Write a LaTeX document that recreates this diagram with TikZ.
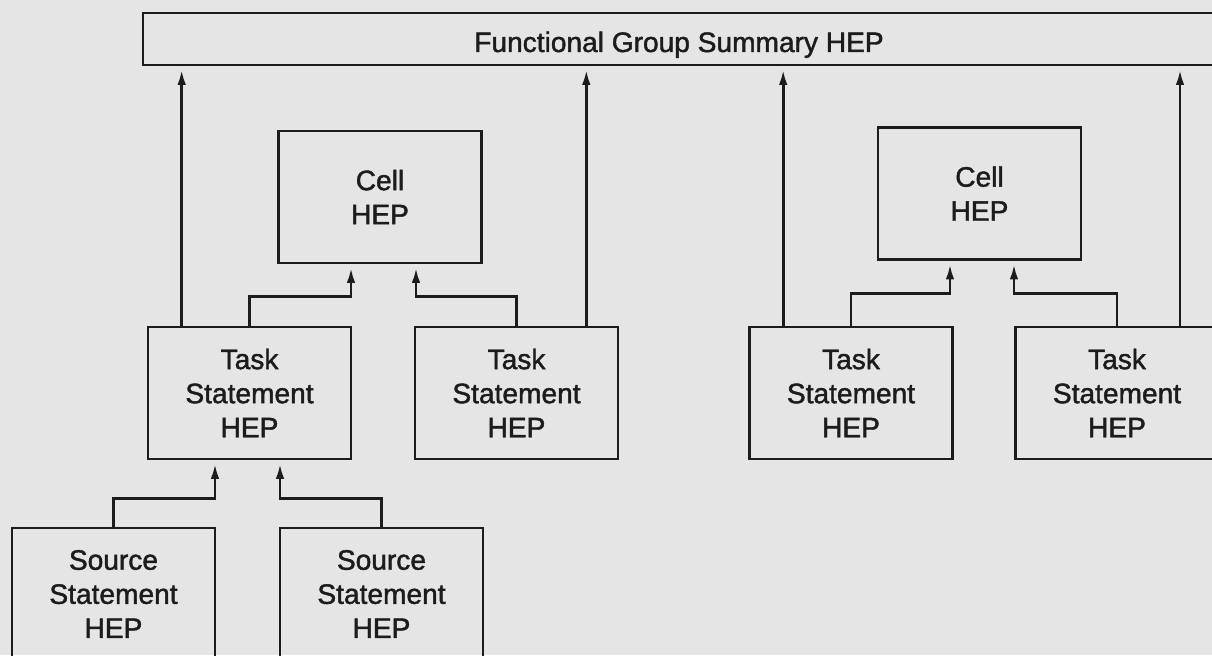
\documentclass[tikz,border=0pt]{standalone}
\usepackage{fontspec}
\setmainfont{Liberation Sans}
\usepackage{tikz}
\usetikzlibrary{arrows.meta,positioning,calc}
\definecolor{scangray}{RGB}{229,229,229}
\definecolor{inkdark}{RGB}{28,28,28}
\tikzset{
  hep/.style={draw=inkdark, line width=1.5pt, minimum width=4.06cm, minimum height=2.64cm,
              inner sep=0pt, align=center, text=inkdark,
              font=\fontsize{16}{19.4}\selectfont\addfontfeature{FakeBold=1.5}},
  bar/.style={hep, minimum width=21.44cm, minimum height=1.04cm, text height=0.58cm, text depth=0.06cm},
  uparr/.style={-{Latex[length=3mm,width=1.7mm]}, inkdark, line width=1.5pt, shorten >=0.7mm},
}

\begin{document}
\begin{tikzpicture}
      \useasboundingbox (0,0) rectangle (24.24,13.1);
      \fill[scangray] (0,0) rectangle (24.24,13.1);
      \clip (0,0) rectangle (24.24,13.1);
      \node[bar] (top) at (13.58,12.32) {Functional Group Summary HEP};
      \node[hep] (c1) at (7.60,9.16) {Cell\\HEP};
      \node[hep] (c2) at (19.59,9.23) {Cell\\HEP};
      \node[hep] (t1) at (4.99,5.24) {Task\\Statement\\HEP};
      \node[hep] (t2) at (10.33,5.24) {Task\\Statement\\HEP};
      \node[hep] (t3) at (17.02,5.24) {Task\\Statement\\HEP};
      \node[hep] (t4) at (22.34,5.24) {Task\\Statement\\HEP};
      \node[hep] (s1) at (2.27,1.22) {Source\\Statement\\HEP};
      \node[hep] (s2) at (7.63,1.22) {Source\\Statement\\HEP};
      % straight up to the summary bar
      \draw[uparr] ([xshift=0.7cm]t1.north west) -- ([xshift=0.7cm]t1.north west |- top.south);
      \draw[uparr] ([xshift=-0.66cm]t2.north east) -- ([xshift=-0.66cm]t2.north east |- top.south);
      \draw[uparr] ([xshift=0.7cm]t3.north west) -- ([xshift=0.7cm]t3.north west |- top.south);
      \draw[uparr] ([xshift=1.26cm]t4.north) -- ([xshift=1.26cm]t4.north |- top.south);
      % tasks into cells
      \draw[uparr] (t1.north) -- ++(0,0.58) -| ([xshift=-0.58cm]c1.south);
      \draw[uparr] (t2.north) -- ++(0,0.58) -| ([xshift=0.72cm]c1.south);
      \draw[uparr] (t3.north) -- ++(0,0.64) -| ([xshift=-0.59cm]c2.south);
      \draw[uparr] (t4.north) -- ++(0,0.64) -| ([xshift=0.69cm]c2.south);
      % sources into task
      \draw[uparr] (s1.north) -- ++(0,0.56) -| ([xshift=-0.69cm]t1.south);
      \draw[uparr] (s2.north) -- ++(0,0.56) -| ([xshift=0.61cm]t1.south);
  \end{tikzpicture}
\end{document}
